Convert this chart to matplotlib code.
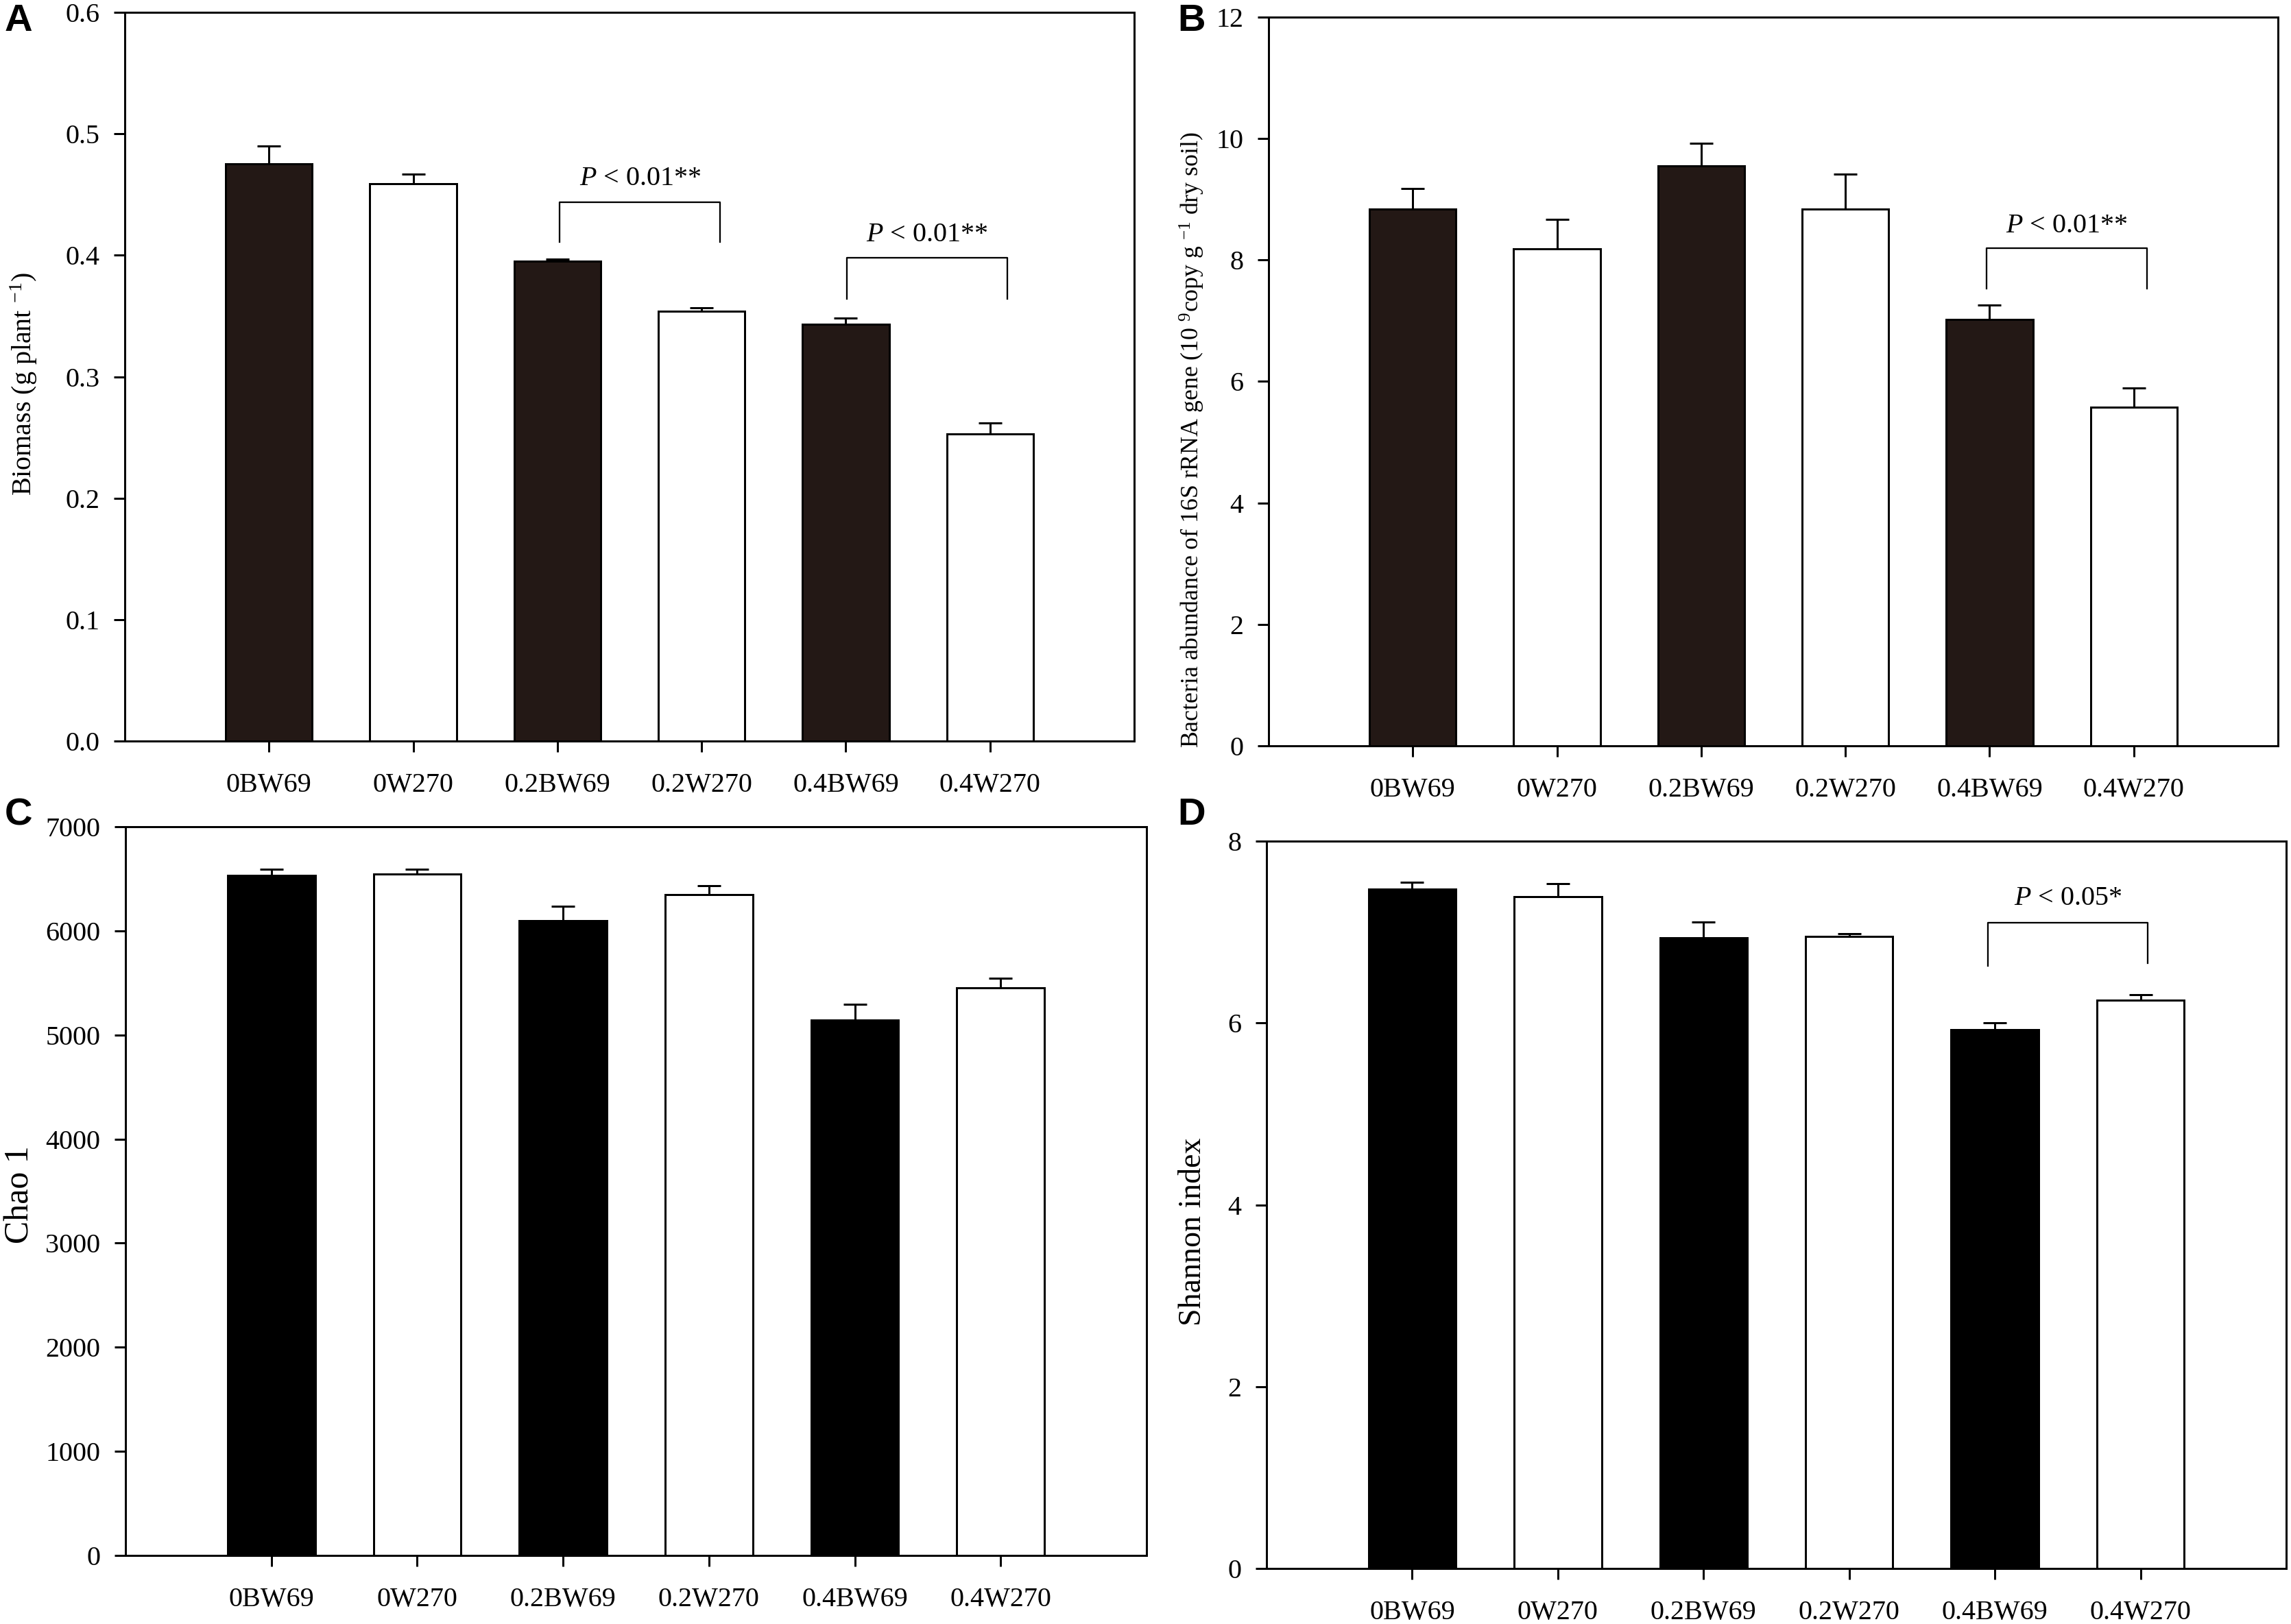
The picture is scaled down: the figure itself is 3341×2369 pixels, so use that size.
import numpy as np
import matplotlib
matplotlib.use("Agg")
import matplotlib.pyplot as plt

plt.rcParams['font.family'] = ['Liberation Serif', 'DejaVu Serif']
plt.rcParams['mathtext.fontset'] = 'custom'
plt.rcParams['mathtext.rm'] = 'Liberation Serif'
plt.rcParams['mathtext.it'] = 'Liberation Serif:italic'
plt.rcParams['font.size'] = 9.6

# 数据
groups = ['0BW69', '0W270', '0.2BW69', '0.2W270', '0.4BW69', '0.4W270']

biomass = [0.475, 0.459, 0.395, 0.354, 0.343, 0.253]
biomass_err = [0.015, 0.008, 0.002, 0.003, 0.005, 0.009]

bacteria = [8.84, 8.18, 9.55, 8.84, 7.02, 5.58]
bacteria_err = [0.34, 0.49, 0.37, 0.57, 0.24, 0.31]

chao1 = [6530, 6545, 6095, 6350, 5145, 5455]
chao1_err = [65, 50, 140, 85, 150, 90]

shannon = [7.47, 7.39, 6.94, 6.95, 5.93, 6.25]
shannon_err = [0.08, 0.14, 0.17, 0.03, 0.07, 0.06]

W, H = 3341, 2369
fig = plt.figure(figsize=(W / 300, H / 300), dpi=300)


def rect(l, r, t, b):
    return [l / W, 1 - b / H, (r - l) / W, (b - t) / H]


def draw(box, vals, errs, dark, ylim, yticks, fmt, ylabel, lab_x, lab_y, lab_size):
    ax = fig.add_axes(rect(*box))
    x = np.arange(1, len(groups) + 1)
    colors = [dark, 'white'] * 3
    ax.bar(x, vals, width=0.6, color=colors, edgecolor='black', linewidth=0.72, zorder=2)
    ax.errorbar(x, vals, yerr=[np.zeros(len(vals)), errs], fmt='none', ecolor='black',
                elinewidth=0.72, capsize=4, capthick=0.72, zorder=3)
    ax.set_xlim(0, 7)
    ax.set_ylim(*ylim)
    ax.set_yticks(yticks)
    ax.set_yticklabels([fmt.format(v) for v in yticks])
    ax.set_xticks(x)
    ax.set_xticklabels(groups)
    ax.tick_params(axis='y', direction='out', length=3.8, width=0.72, pad=5)
    ax.tick_params(axis='x', direction='out', length=3.8, width=0.72, pad=7.2)
    for s in ax.spines.values():
        s.set_linewidth(0.72)
    ax.set_ylabel(ylabel, va='center', fontsize=lab_size)
    ax.yaxis.set_label_coords(lab_x, lab_y)
    return ax


def bracket(ax, x1, x2, ytop, yl, yr, ytext, text):
    ax.plot([x1, x1, x2, x2], [yl, ytop, ytop, yr], color='black', lw=0.55, zorder=4)
    ax.text((x1 + x2) / 2, ytext, text, ha='center', va='baseline', fontsize=9.6)


dark_brown = '#231815'

axA = draw((182, 1654, 18, 1081), biomass, biomass_err, dark_brown, (0, 0.6),
           np.arange(0, 0.61, 0.1), '{:.1f}', r'Biomass (g plant $^{-1}$)', -0.10, 0.49, 9.6)
bracket(axA, 3.015, 4.13, 0.4437, 0.411, 0.411, 0.4577, r'$\it{P}$ < 0.01**')
bracket(axA, 5.007, 6.12, 0.398, 0.364, 0.364, 0.4115, r'$\it{P}$ < 0.01**')

axB = draw((1850, 3322, 25, 1088), bacteria, bacteria_err, dark_brown, (0, 12),
           np.arange(0, 13, 2), '{:.0f}',
           r'Bacteria abundance of 16S rRNA gene (10 $^{9}$copy g $^{-1}$ dry soil)', -0.076, 0.42, 8.6)
bracket(axB, 4.98, 6.09, 8.196, 7.53, 7.53, 8.46, r'$\it{P}$ < 0.01**')

axC = draw((183, 1672, 1206, 2269), chao1, chao1_err, 'black', (0, 7000),
           np.arange(0, 7001, 1000), '{:.0f}', 'Chao 1', -0.103, 0.495, 12)

axD = draw((1847, 3334, 1227, 2288), shannon, shannon_err, 'black', (0, 8),
           np.arange(0, 9, 2), '{:.0f}', 'Shannon index', -0.072, 0.463, 11)
bracket(axD, 4.95, 6.05, 7.10, 6.63, 6.66, 7.30, r'$\it{P}$ < 0.05*')

for letter, px, py in [('A', 7, 5), ('B', 1717, 5), ('C', 7, 1163), ('D', 1717, 1163)]:
    fig.text(px / W, 1 - py / H, letter, ha='left', va='top', fontsize=13.5,
             fontweight='bold', family=['Liberation Sans', 'DejaVu Sans'])

fig.savefig('out.png', dpi=300)
